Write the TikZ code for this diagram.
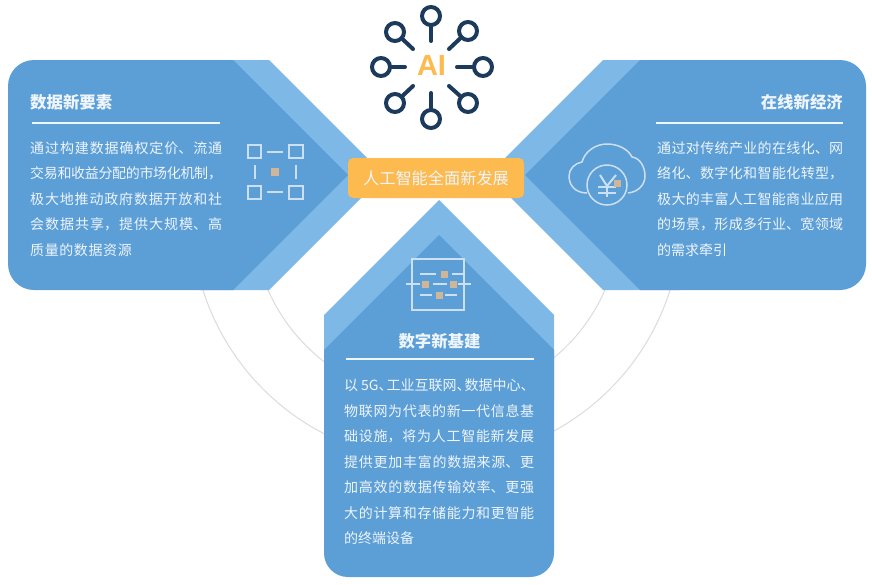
\documentclass[tikz,border=0pt]{standalone}
\usepackage{fontspec}
\setmainfont{Noto Sans CJK SC}
\newfontfamily\logofont{Liberation Sans}
\XeTeXlinebreaklocale "zh"
\XeTeXlinebreakskip=0pt plus 2pt
\usetikzlibrary{calc}
\usetikzlibrary{positioning}
\definecolor{paneldark}{RGB}{92,158,214}
\definecolor{panellight}{RGB}{125,184,230}
\definecolor{hubnavy}{RGB}{28,58,92}
\definecolor{labelorange}{RGB}{252,186,79}
\definecolor{icontan}{RGB}{208,182,152}
\definecolor{iconblue}{RGB}{205,224,242}
\definecolor{bodywhite}{RGB}{238,245,251}
\tikzstyle{light} = [fill=panellight, draw=none]
\tikzstyle{dark} = [fill=paneldark, draw=none]
\tikzstyle{ring} = [draw=black!14, line width=1pt]
\tikzstyle{hub} = [circle, draw=hubnavy, line width=4pt, minimum size=18pt, inner sep=0pt]
\tikzstyle{stem} = [draw=hubnavy, line width=4pt, line cap=round]
\tikzstyle{title} = [text=bodywhite, inner sep=0pt, font=\fontsize{16.4}{18}\selectfont\bfseries]
\tikzstyle{body} = [text=bodywhite, inner sep=0pt, align=justify, anchor=north west, font=\fontsize{14}{25.5}\selectfont]
\tikzstyle{rulew} = [draw=bodywhite, line width=1.3pt]
\tikzstyle{icon} = [draw=iconblue, line width=2pt]
\tikzstyle{tan} = [fill=icontan, draw=none, minimum size=7pt, inner sep=0pt]
\begin{document}
\begin{tikzpicture}[x=1pt,y=-1pt]
    \useasboundingbox (0,0) rectangle (872,584);

    % rings behind the panels
    \coordinate (ringc) at (436.5,216);
    \draw[ring] (ringc) ++(17:245) arc (17:163:245);
    \draw[ring] (ringc) ++(23:184) arc (23:157:184);

    % left panel
    \path[light] (200,60) -- (269,60) -- (384,175) -- (269,290) -- (200,290) -- cycle;
    \path[dark] (233,60) -- (34,60) .. controls (19.6,60) and (8,71.6) .. (8,86) -- (8,264)
        .. controls (8,278.4) and (19.6,290) .. (34,290) -- (233,290) -- (348,175) -- cycle;
    % right panel
    \path[light] (680,60) -- (603,60) -- (488,175) -- (603,290) -- (680,290) -- cycle;
    \path[dark] (640,60) -- (840,60) .. controls (854.4,60) and (866,71.6) .. (866,86) -- (866,264)
        .. controls (866,278.4) and (854.4,290) .. (840,290) -- (640,290) -- (525,175) -- cycle;
    % bottom panel
    \path[light] (439,200) -- (554,315) -- (554,400) -- (324,400) -- (324,315) -- cycle;
    \path[dark] (439,235) -- (554,350) -- (554,553) .. controls (554,566.3) and (543.3,577) .. (530,577)
        -- (348,577) .. controls (334.7,577) and (324,566.3) .. (324,553) -- (324,350) -- cycle;

    % logo
    \node[text=labelorange, inner sep=0pt, font=\logofont\bfseries\fontsize{29}{29}\selectfont] (ai) at (431.5,66) {AI};
    \foreach \name/\hx/\hy/\sx/\sy in {n/431/16/431/41, s/431/119/431/93, w/381/67/405/67, e/483/67/457/67,
        nw/395/32/413/49, ne/468/31/449/49, sw/395/103/413/86, se/468/103/449/86} {
        \node[hub] (hub\name) at (\hx,\hy) {};
        \coordinate (end\name) at (\sx,\sy);
        \draw[stem] (hub\name) -- (end\name);
    }

    % centre label
    \node[fill=labelorange, rounded corners=5pt, minimum width=176pt, minimum height=40pt, inner sep=0pt,
        text=bodywhite, font=\fontsize{16.2}{18}\selectfont] (label) at (436,178) {人工智能全面新发展};

    % left texts
    \node[title, anchor=west] (lefttitle) at (30,102) {数据新要素};
    \coordinate (leftr1) at (32,123);
    \coordinate (leftr2) at (220,123);
    \draw[rulew] (leftr1) -- (leftr2);
    \node[body, text width=192pt] (leftbody) at (30,141) {\XeTeXlinebreakskip=0.6pt plus 2pt minus 1pt
        通过构建数据确权定价、流通\linebreak
        交易和收益分配的市场化机制，\linebreak
        极大地推动政府数据开放和社\linebreak
        会数据共享，提供大规模、高\linebreak
        质量的数据资源};

    % right texts
    \node[title, anchor=east] (righttitle) at (843,102) {在线新经济};
    \coordinate (rightr1) at (656,123);
    \coordinate (rightr2) at (843,123);
    \draw[rulew] (rightr1) -- (rightr2);
    \node[body, text width=186pt] (rightbody) at (657,141) {通过对传统产业的在线化、网\linebreak
        络化、数字化和智能化转型，\linebreak
        极大的丰富人工智能商业应用\linebreak
        的场景，形成多行业、宽领域\linebreak
        的需求牵引};

    % bottom texts
    \node[title] (bottomtitle) at (439.5,341) {数字新基建};
    \coordinate (bottomr1) at (346,359);
    \coordinate (bottomr2) at (534,359);
    \draw[rulew] (bottomr1) -- (bottomr2);
    \node[body, text width=190pt] (bottombody) at (344,379) {\mbox{以\kern3pt 5G、\kern-6pt 工业互联网、\kern-6pt 数据中心、}\newline
        物联网为代表的新一代信息基\linebreak
        础设施，将为人工智能新发展\linebreak
        提供更加丰富的数据来源、更\linebreak
        加高效的数据传输效率、更强\linebreak
        大的计算和存储能力和更智能\linebreak
        的终端设备};

    % left icon
    \draw[icon] (247.5,144.5) rectangle (261,157.5);
    \draw[icon] (289,144.5) rectangle (302.5,157.5);
    \draw[icon] (247.5,186) rectangle (261,199);
    \draw[icon] (289,186) rectangle (302.5,199);
    \draw[icon] (267,152) -- (283,152);
    \draw[icon] (267,192) -- (283,192);
    \draw[icon] (255,165) -- (255,179);
    \draw[icon] (295.5,165) -- (295.5,179);
    \node[tan, minimum size=8pt] (leftdot) at (275,172) {};

    % right icon
    \draw[icon, line width=1.5pt] (587,193) .. controls (575,193) and (569,185) .. (569,176)
        .. controls (569,169) and (575,163) .. (582,162)
        .. controls (585,151) and (596,144) .. (607,144)
        .. controls (618,144) and (628,149) .. (632,157)
        .. controls (640,158) and (645,167) .. (645,176)
        .. controls (645,185) and (638,192) .. (628,193);
    \node[circle, draw=iconblue, line width=1.5pt, minimum size=40pt, inner sep=0pt] (coin) at (607,185) {};
    \draw[icon] (600,175) -- (607,186) -- (616,175);
    \draw[icon] (607,186) -- (607,197);
    \draw[icon] (598,187) -- (616,187);
    \draw[icon] (598,193) -- (616,193);
    \node[tan] (rightdot) at (617,183) {};

    % bottom icon
    \draw[icon] (412,259) rectangle (464,310);
    \foreach \xa/\xb/\yl in {420/436/274, 452/463/274, 406/420/284, 433/447/284, 458/471/284, 420/432/295, 445/457/295} {
        \draw[icon] (\xa,\yl) -- (\xb,\yl);
    }
    \foreach \dx/\dy in {444/274, 425/284, 453/284, 439/295} {
        \node[tan] (dot\dx) at (\dx,\dy) {};
    }
\end{tikzpicture}
\end{document}
